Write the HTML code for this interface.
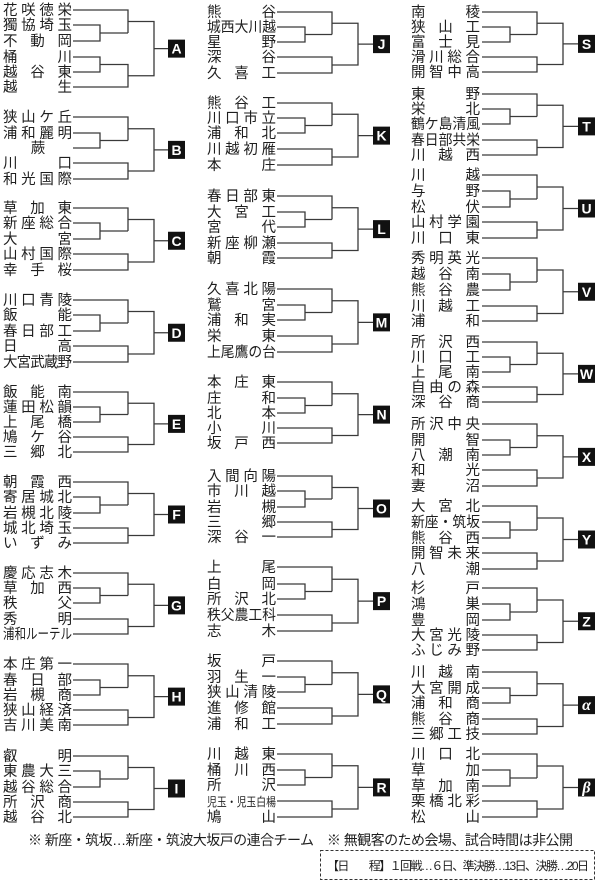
<!DOCTYPE html>
<html><head><meta charset="utf-8">
<style>
html,body{margin:0;padding:0;background:#fff;}
svg{display:block;}
text{font-family:"Liberation Sans","Noto Sans CJK JP",sans-serif;font-size:14.5px;fill:#1e1e1e;}
.lt{fill:#fff;font-weight:bold;font-size:14px;text-anchor:middle;}
</style></head>
<body>
<svg id="s" width="600" height="882" viewBox="0 0 600 882" xmlns="http://www.w3.org/2000/svg">
<g id="lines" fill="none" stroke="#3a3a3a" stroke-width="1.3"></g>
<g id="boxes"></g>
<!-- Column 1 -->
<text x="3" y="15" textLength="69">花咲徳栄</text>
<text x="3" y="30" textLength="69">獨協埼玉</text>
<text x="3" y="46" textLength="69">不動岡</text>
<text x="3" y="62" textLength="69">桶川</text>
<text x="3" y="77" textLength="69">越谷東</text>
<text x="3" y="92" textLength="69">越生</text>

<text x="3" y="122" textLength="69">狭山ケ丘</text>
<text x="3" y="138" textLength="69">浦和麗明</text>
<text x="38" y="153" text-anchor="middle">蕨</text>
<text x="3" y="168" textLength="69">川口</text>
<text x="3" y="184" textLength="69">和光国際</text>

<text x="3" y="213" textLength="69">草加東</text>
<text x="3" y="228" textLength="69">新座総合</text>
<text x="3" y="244" textLength="69">大宮</text>
<text x="3" y="259" textLength="69">山村国際</text>
<text x="3" y="275" textLength="69">幸手桜</text>

<text x="3" y="305" textLength="69">川口青陵</text>
<text x="3" y="320" textLength="69">飯能</text>
<text x="3" y="336" textLength="69">春日部工</text>
<text x="3" y="351" textLength="69">日高</text>
<text x="3" y="367" textLength="69">大宮武蔵野</text>

<text x="3" y="397" textLength="69">飯能南</text>
<text x="3" y="412" textLength="69">蓮田松韻</text>
<text x="3" y="427" textLength="69">上尾橋</text>
<text x="3" y="442" textLength="69">鳩ケ谷</text>
<text x="3" y="457" textLength="69">三郷北</text>

<text x="3" y="487" textLength="69">朝霞西</text>
<text x="3" y="502" textLength="69">寄居城北</text>
<text x="3" y="518" textLength="69">岩槻北陵</text>
<text x="3" y="533" textLength="69">城北埼玉</text>
<text x="3" y="548" textLength="69">いずみ</text>

<text x="3" y="578" textLength="69">慶応志木</text>
<text x="3" y="593" textLength="69">草加西</text>
<text x="3" y="608" textLength="69">秩父</text>
<text x="3" y="624" textLength="69">秀明</text>
<text x="3" y="639" textLength="69" lengthAdjust="spacingAndGlyphs">浦和ルーテル</text>

<text x="3" y="669" textLength="69">本庄第一</text>
<text x="3" y="685" textLength="69">春日部</text>
<text x="3" y="700" textLength="69">岩槻商</text>
<text x="3" y="715" textLength="69">狭山経済</text>
<text x="3" y="730" textLength="69">吉川美南</text>

<text x="3" y="761" textLength="69">叡明</text>
<text x="3" y="776" textLength="69">東農大三</text>
<text x="3" y="792" textLength="69">越谷総合</text>
<text x="3" y="807" textLength="69">所沢商</text>
<text x="3" y="822" textLength="69">越谷北</text>

<!-- Column 2 -->
<text x="207" y="17" textLength="69">熊谷</text>
<text x="207" y="32" textLength="69" lengthAdjust="spacingAndGlyphs">城西大川越</text>
<text x="207" y="47" textLength="69">星野</text>
<text x="207" y="62" textLength="69">深谷</text>
<text x="207" y="78" textLength="69">久喜工</text>

<text x="207" y="108" textLength="69">熊谷工</text>
<text x="207" y="123" textLength="69">川口市立</text>
<text x="207" y="138" textLength="69">浦和北</text>
<text x="207" y="154" textLength="69">川越初雁</text>
<text x="207" y="170" textLength="69">本庄</text>

<text x="207" y="201" textLength="69">春日部東</text>
<text x="207" y="217" textLength="69">大宮工</text>
<text x="207" y="232" textLength="69">宮代</text>
<text x="207" y="248" textLength="69">新座柳瀬</text>
<text x="207" y="263" textLength="69">朝霞</text>

<text x="207" y="294" textLength="69">久喜北陽</text>
<text x="207" y="310" textLength="69">鷲宮</text>
<text x="207" y="325" textLength="69">浦和実</text>
<text x="207" y="341" textLength="69">栄東</text>
<text x="207" y="357" textLength="69" lengthAdjust="spacingAndGlyphs">上尾鷹の台</text>

<text x="207" y="387" textLength="69">本庄東</text>
<text x="207" y="403" textLength="69">庄和</text>
<text x="207" y="418" textLength="69">北本</text>
<text x="207" y="433" textLength="69">小川</text>
<text x="207" y="448" textLength="69">坂戸西</text>

<text x="207" y="481" textLength="69">入間向陽</text>
<text x="207" y="496" textLength="69">市川越</text>
<text x="207" y="512" textLength="69">岩槻</text>
<text x="207" y="527" textLength="69">三郷</text>
<text x="207" y="542" textLength="69">深谷一</text>

<text x="207" y="572" textLength="69">上尾</text>
<text x="207" y="589" textLength="69">白岡</text>
<text x="207" y="604" textLength="69">所沢北</text>
<text x="207" y="620" textLength="69" lengthAdjust="spacingAndGlyphs">秩父農工科</text>
<text x="207" y="636" textLength="69">志木</text>

<text x="207" y="666" textLength="69">坂戸</text>
<text x="207" y="682" textLength="69">羽生一</text>
<text x="207" y="697" textLength="69">狭山清陵</text>
<text x="207" y="713" textLength="69">進修館</text>
<text x="207" y="729" textLength="69">浦和工</text>

<text x="207" y="759" textLength="69">川越東</text>
<text x="207" y="775" textLength="69">桶川西</text>
<text x="207" y="790" textLength="69">所沢</text>
<text x="207" y="806" textLength="69" lengthAdjust="spacingAndGlyphs" style="font-size:12px">児玉・児玉白楊</text>
<text x="207" y="822" textLength="69">鳩山</text>

<!-- Column 3 -->
<text x="411" y="17" textLength="69">南稜</text>
<text x="411" y="32" textLength="69">狭山工</text>
<text x="411" y="47" textLength="69">富士見</text>
<text x="411" y="62" textLength="69">滑川総合</text>
<text x="411" y="77" textLength="69">開智中高</text>

<text x="411" y="99" textLength="69">東野</text>
<text x="411" y="114" textLength="69">栄北</text>
<text x="411" y="129" textLength="69" lengthAdjust="spacingAndGlyphs">鶴ケ島清風</text>
<text x="411" y="145" textLength="69" lengthAdjust="spacingAndGlyphs">春日部共栄</text>
<text x="411" y="160" textLength="69">川越西</text>

<text x="411" y="180" textLength="69">川越</text>
<text x="411" y="196" textLength="69">与野</text>
<text x="411" y="212" textLength="69">松伏</text>
<text x="411" y="227" textLength="69">山村学園</text>
<text x="411" y="243" textLength="69">川口東</text>

<text x="411" y="263" textLength="69">秀明英光</text>
<text x="411" y="279" textLength="69">越谷南</text>
<text x="411" y="295" textLength="69">熊谷農</text>
<text x="411" y="311" textLength="69">川越工</text>
<text x="411" y="326" textLength="69">浦和</text>

<text x="411" y="347" textLength="69">所沢西</text>
<text x="411" y="362" textLength="69">川口工</text>
<text x="411" y="377" textLength="69">上尾南</text>
<text x="411" y="392" textLength="69">自由の森</text>
<text x="411" y="407" textLength="69">深谷商</text>

<text x="411" y="429" textLength="69">所沢中央</text>
<text x="411" y="445" textLength="69">開智</text>
<text x="411" y="460" textLength="69">八潮南</text>
<text x="411" y="475" textLength="69">和光</text>
<text x="411" y="491" textLength="69">妻沼</text>

<text x="411" y="511" textLength="69">大宮北</text>
<text x="411" y="527" textLength="69" lengthAdjust="spacingAndGlyphs">新座・筑坂</text>
<text x="411" y="543" textLength="69">熊谷西</text>
<text x="411" y="558" textLength="69">開智未来</text>
<text x="411" y="574" textLength="69">八潮</text>

<text x="411" y="593" textLength="69">杉戸</text>
<text x="411" y="609" textLength="69">鴻巣</text>
<text x="411" y="625" textLength="69">豊岡</text>
<text x="411" y="640" textLength="69">大宮光陵</text>
<text x="411" y="655" textLength="69">ふじみ野</text>

<text x="411" y="677" textLength="69">川越南</text>
<text x="411" y="693" textLength="69">大宮開成</text>
<text x="411" y="708" textLength="69">浦和商</text>
<text x="411" y="724" textLength="69">熊谷商</text>
<text x="411" y="739" textLength="69">三郷工技</text>

<text x="411" y="759" textLength="69">川口北</text>
<text x="411" y="775" textLength="69">草加</text>
<text x="411" y="791" textLength="69">草加南</text>
<text x="411" y="806" textLength="69">栗橋北彩</text>
<text x="411" y="822" textLength="69">松山</text>

<!-- letters -->
<g id="letters">
<text class="lt" id="L0">A</text><text class="lt" id="L1">B</text><text class="lt" id="L2">C</text>
<text class="lt" id="L3">D</text><text class="lt" id="L4">E</text><text class="lt" id="L5">F</text>
<text class="lt" id="L6">G</text><text class="lt" id="L7">H</text><text class="lt" id="L8">I</text>
<text class="lt" id="L9">J</text><text class="lt" id="L10">K</text><text class="lt" id="L11">L</text>
<text class="lt" id="L12">M</text><text class="lt" id="L13">N</text><text class="lt" id="L14">O</text>
<text class="lt" id="L15">P</text><text class="lt" id="L16">Q</text><text class="lt" id="L17">R</text>
<text class="lt" id="L18">S</text><text class="lt" id="L19">T</text><text class="lt" id="L20">U</text>
<text class="lt" id="L21">V</text><text class="lt" id="L22">W</text><text class="lt" id="L23">X</text>
<text class="lt" id="L24">Y</text><text class="lt" id="L25">Z</text>
<text class="lt" id="L26" style="font-style:italic;font-family:'Liberation Serif',serif;font-size:16px">α</text>
<text class="lt" id="L27" style="font-style:italic;font-family:'Liberation Serif',serif;font-size:16px">β</text>
</g>

<text x="28" y="845" textLength="545" style="font-size:14px">※ 新座・筑坂…新座・筑波大坂戸の連合チーム　※ 無観客のため会場、試合時間は非公開</text>
<rect x="320.5" y="850.5" width="274" height="29" fill="none" stroke="#333" stroke-width="1" stroke-dasharray="3,2"/>
<text x="327" y="870" textLength="262" style="font-size:12px">【日　　程】１回戦…６日、準決勝…13日、決勝…20日</text>

<script>
(function(){
var X=[[73,100,128,154,168],[277,305,332,358,373],[482,510,537,563,578]];
var B=[
[0,[10,25,41,57,72,87]],[0,[117,133,148,163,179]],[0,[208,223,239,254,270]],[0,[300,315,331,346,362]],
[0,[392,407,422,437,452]],[0,[482,497,513,528,543]],[0,[573,588,603,619,634]],[0,[664,680,695,710,725]],
[0,[756,771,787,802,817]],
[1,[12,27,42,57,73]],[1,[103,118,133,149,165]],[1,[196,212,227,243,258]],[1,[289,305,320,336,352]],
[1,[382,398,413,428,443]],[1,[476,491,507,522,537]],[1,[567,584,599,615,631]],[1,[661,677,692,708,724]],
[1,[754,770,785,801,817]],
[2,[12,27,42,57,72]],[2,[94,109,124,140,155]],[2,[175,191,207,222,238]],[2,[258,274,290,306,321]],
[2,[342,357,372,387,402]],[2,[424,440,455,470,486]],[2,[506,522,538,553,569]],[2,[588,604,620,635,650]],
[2,[672,688,703,719,734]],[2,[754,770,786,801,817]]];
var ns="http://www.w3.org/2000/svg",lg=document.getElementById('lines'),bg=document.getElementById('boxes');
B.forEach(function(b,i){
 var c=X[b[0]],r=b[1],L=c[0],x1=c[1],x2=c[2],x3=c[3],bx=c[4],d="";
 var m23=(r[1]+r[2])/2,m1=(r[0]+m23)/2,mb;
 d+="M"+L+" "+r[0]+"H"+x2+"V"+m23;
 d+="M"+L+" "+r[1]+"H"+x1+"V"+r[2]+"H"+L;
 d+="M"+x1+" "+m23+"H"+x2;
 if(r.length==6){
  var m45=(r[3]+r[4])/2;
  d+="M"+L+" "+r[3]+"H"+x1+"V"+r[4]+"H"+L;
  d+="M"+x1+" "+m45+"H"+x2+"V"+r[5]+"H"+L;
  mb=(m45+r[5])/2;
 } else {
  d+="M"+L+" "+r[3]+"H"+x2+"V"+r[4]+"H"+L;
  mb=(r[3]+r[4])/2;
 }
 d+="M"+x2+" "+m1+"H"+x3+"V"+mb+"H"+x2;
 var f=(m1+mb)/2;
 d+="M"+x3+" "+f+"H"+bx;
 var p=document.createElementNS(ns,'path');p.setAttribute('d',d);lg.appendChild(p);
 var rc=document.createElementNS(ns,'rect');
 rc.setAttribute('x',bx);rc.setAttribute('y',f-9);rc.setAttribute('width',17);rc.setAttribute('height',18);rc.setAttribute('fill','#111');
 bg.appendChild(rc);
 var t=document.getElementById('L'+i);t.setAttribute('x',bx+8.5);t.setAttribute('y',f+5);
});
})();
</script>
</svg>
</body></html>
